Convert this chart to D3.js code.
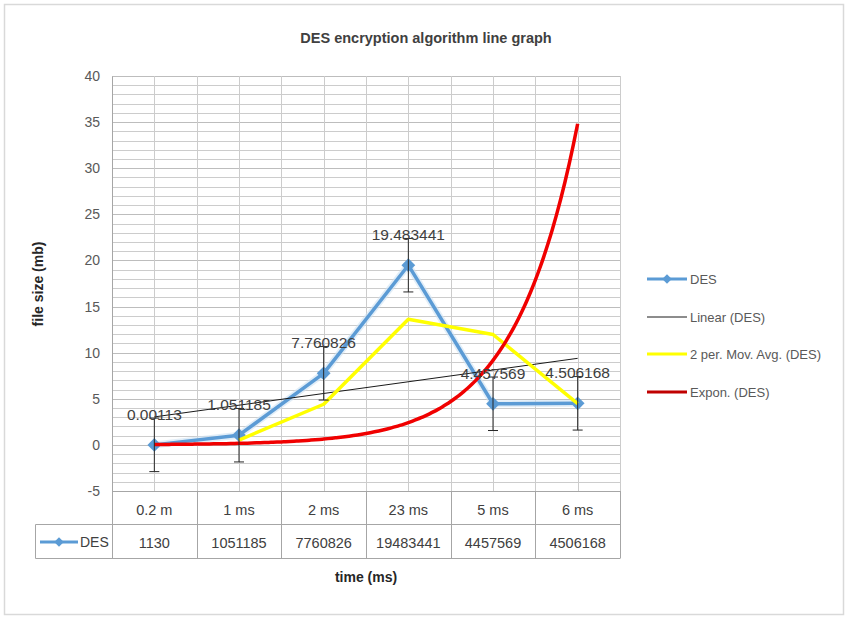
<!DOCTYPE html>
<html>
<head>
<meta charset="utf-8">
<script src="https://cdn.jsdelivr.net/npm/d3@7"></script>
<style>
  html, body { margin: 0; padding: 0; background: #fff; }
  svg { display: block; font-family: "Liberation Sans", Arial, sans-serif; }
</style>
</head>
<body>
<svg id="chart" width="845" height="617"></svg>
<script>
// Time buckets and the matching DES file sizes (in MB)
const categories = ["0.2 m", "1 ms", "2 ms", "23 ms", "5 ms", "6 ms"];
const desValues = [0.00113, 1.051185, 7.760826, 19.483441, 4.457569, 4.506168];
const desLabels = ["0.00113", "1.051185", "7.760826", "19.483441", "4.457569", "4.506168"];
const tableValues = ["1130", "1051185", "7760826", "19483441", "4457569", "4506168"];
const yTicks = [-5, 0, 5, 10, 15, 20, 25, 30, 35, 40];
const errorAmount = 2.9;
const legendItems = ["DES", "Linear (DES)", "2 per. Mov. Avg. (DES)", "Expon. (DES)"];

const svg = d3.select("#chart");
const W = 845, H = 617;
const plot = { left: 112, right: 620, top: 76, bottom: 491 };

const BLUE = "#5b9bd5", YELLOW = "#ffff00", RED = "#f00000";
const TEXT = "#404040", GRID = "#cccccc", AXIS = "#a6a6a6";

// outer chart border
svg.append("rect").attr("x", 4.5).attr("y", 4.5).attr("width", W - 6).attr("height", H - 7)
  .attr("fill", "#fff").attr("stroke", "#d9d9d9").attr("stroke-width", 1.5);

const x = d3.scaleBand().domain(categories).range([plot.left, plot.right]);
const y = d3.scaleLinear().domain([-5, 40]).range([plot.bottom, plot.top]);
const cx = i => x(categories[i]) + x.bandwidth() / 2;
// numeric position 1..n (as used for the trend fits) to pixel x
const xNum = t => plot.left + (t - 0.5) * x.bandwidth();

// square marker turned 45 degrees
const diamond = size => d3.symbol(d3.symbolSquare, size)();

// title
svg.append("text").attr("x", 426).attr("y", 43).attr("text-anchor", "middle")
  .attr("font-weight", "bold").attr("font-size", 14.5).attr("fill", TEXT)
  .text("DES encryption algorithm line graph");

// horizontal gridlines every 1 MB
const g = svg.append("g");
g.selectAll("line.hgrid").data(d3.range(-4, 41)).join("line")
  .attr("x1", plot.left).attr("x2", plot.right)
  .attr("y1", d => Math.round(y(d)) + 0.5).attr("y2", d => Math.round(y(d)) + 0.5)
  .attr("stroke", d => d % 5 === 0 ? "#bdbdbd" : GRID).attr("stroke-width", 1);

// vertical gridlines at category edges and centres
const vx = [];
categories.forEach((c, i) => { vx.push(x(c)); vx.push(cx(i)); });
vx.push(plot.right);
g.selectAll("line.vgrid").data(vx.slice(1)).join("line")
  .attr("x1", d => Math.round(d) + 0.5).attr("x2", d => Math.round(d) + 0.5)
  .attr("y1", plot.top).attr("y2", plot.bottom)
  .attr("stroke", GRID);

// y axis
const yAxis = d3.axisLeft(y).tickValues(yTicks).tickSize(0).tickPadding(12).tickFormat(d => String(d));
const ya = svg.append("g").attr("transform", `translate(${plot.left},0)`).call(yAxis);
ya.select(".domain").attr("stroke", AXIS);
ya.selectAll("text").attr("font-size", 14).attr("fill", "#595959")
  .attr("font-family", "Liberation Sans, Arial, sans-serif");

svg.append("text").attr("transform", "translate(43,284) rotate(-90)")
  .attr("text-anchor", "middle").attr("font-weight", "bold").attr("font-size", 14)
  .attr("fill", "#262626").text("file size (mb)");

// data table under the plot
const tbl = svg.append("g");
const rowSplit = 524.5, tableBottom = 558.5, tableLeft = 35.5;
tbl.append("line").attr("x1", plot.left).attr("x2", plot.right)
  .attr("y1", plot.bottom + 0.5).attr("y2", plot.bottom + 0.5).attr("stroke", AXIS);
[rowSplit, tableBottom].forEach(yy => tbl.append("line")
  .attr("x1", tableLeft).attr("x2", plot.right).attr("y1", yy).attr("y2", yy).attr("stroke", AXIS));
tbl.append("line").attr("x1", tableLeft).attr("x2", tableLeft)
  .attr("y1", rowSplit).attr("y2", tableBottom).attr("stroke", AXIS);
tbl.selectAll("line.col").data(categories.map(c => x(c)).concat([plot.right])).join("line")
  .attr("x1", d => Math.round(d) + 0.5).attr("x2", d => Math.round(d) + 0.5)
  .attr("y1", plot.bottom).attr("y2", tableBottom).attr("stroke", AXIS);
tbl.selectAll("text.cat").data(categories).join("text")
  .attr("x", (d, i) => cx(i)).attr("y", 515).attr("text-anchor", "middle")
  .attr("font-size", 14.5).attr("fill", TEXT).text(d => d);
tbl.selectAll("text.val").data(tableValues).join("text")
  .attr("x", (d, i) => cx(i)).attr("y", 548).attr("text-anchor", "middle")
  .attr("font-size", 14.5).attr("fill", TEXT).text(d => d);

// DES key: line with a diamond marker
function desKey(sel, x0, x1, yy) {
  sel.append("line").attr("x1", x0).attr("x2", x1).attr("y1", yy).attr("y2", yy)
    .attr("stroke", BLUE).attr("stroke-width", 3);
  sel.append("path").attr("d", diamond(45))
    .attr("transform", `translate(${(x0 + x1) / 2},${yy}) rotate(45)`).attr("fill", BLUE);
}
desKey(tbl, 40, 78, 542);
tbl.append("text").attr("x", 80).attr("y", 547).attr("font-size", 14).attr("fill", TEXT).text("DES");

svg.append("text").attr("x", 366).attr("y", 582).attr("text-anchor", "middle")
  .attr("font-weight", "bold").attr("font-size", 14).attr("fill", "#262626").text("time (ms)");

// DES series line with a soft glow
const pts = desValues.map((v, i) => [cx(i), y(v)]);
const line = d3.line();
svg.append("path").attr("d", line(pts)).attr("fill", "none")
  .attr("stroke", "#cfe2f3").attr("stroke-width", 7).attr("stroke-linejoin", "round").attr("opacity", 0.6);
svg.append("path").attr("d", line(pts)).attr("fill", "none")
  .attr("stroke", BLUE).attr("stroke-width", 3.5).attr("stroke-linejoin", "round");
svg.selectAll("path.marker").data(pts).join("path")
  .attr("d", diamond(95))
  .attr("transform", d => `translate(${d[0]},${d[1]}) rotate(45)`).attr("fill", BLUE);

// Least-squares trend fits over positions 1..n
const n = desValues.length;
const xs = d3.range(1, n + 1);
function fit(xv, yv) {
  const mx = d3.mean(xv), my = d3.mean(yv);
  const sxy = d3.sum(xv, (d, i) => (d - mx) * (yv[i] - my));
  const sxx = d3.sum(xv, d => (d - mx) * (d - mx));
  const b = sxy / sxx;
  return { a: my - b * mx, b };
}
const lin = fit(xs, desValues);
const ex = fit(xs, desValues.map(v => Math.log(v)));

// linear trendline
svg.append("line").attr("x1", xNum(1)).attr("x2", xNum(n))
  .attr("y1", y(lin.a + lin.b)).attr("y2", y(lin.a + lin.b * n))
  .attr("stroke", "#1a1a1a").attr("stroke-width", 1);

// 2-period moving average
const mov = d3.range(1, n).map(i => [cx(i), y((desValues[i - 1] + desValues[i]) / 2)]);
svg.append("path").attr("d", line(mov)).attr("fill", "none")
  .attr("stroke", YELLOW).attr("stroke-width", 3.5).attr("stroke-linejoin", "round");

// exponential trendline
const expPts = d3.range(1, n + 0.001, 0.05).map(t => [xNum(t), y(Math.exp(ex.a + ex.b * t))]);
svg.append("path").attr("d", d3.line().curve(d3.curveMonotoneX)(expPts)).attr("fill", "none")
  .attr("stroke", RED).attr("stroke-width", 3.5);

// error bars
const eb = svg.append("g").attr("stroke", "#262626").attr("stroke-width", 1);
desValues.forEach((v, i) => {
  const xx = cx(i);
  eb.append("line").attr("x1", xx).attr("x2", xx).attr("y1", y(v + errorAmount)).attr("y2", y(v - errorAmount));
  [v + errorAmount, v - errorAmount].forEach(e => eb.append("line")
    .attr("x1", xx - 5).attr("x2", xx + 5).attr("y1", y(e)).attr("y2", y(e)));
});

// data labels
svg.selectAll("text.dl").data(desValues).join("text")
  .attr("x", (d, i) => cx(i)).attr("y", d => y(d) - 25).attr("text-anchor", "middle")
  .attr("font-size", 15.5).attr("fill", TEXT).text((d, i) => desLabels[i]);

// legend
const lg = svg.append("g");
const ly = [279, 317, 354, 392];
desKey(lg, 647, 687, ly[0]);
lg.append("line").attr("x1", 647).attr("x2", 687).attr("y1", ly[1]).attr("y2", ly[1])
  .attr("stroke", "#1a1a1a").attr("stroke-width", 1);
lg.append("line").attr("x1", 647).attr("x2", 687).attr("y1", ly[2]).attr("y2", ly[2])
  .attr("stroke", YELLOW).attr("stroke-width", 3);
lg.append("line").attr("x1", 647).attr("x2", 687).attr("y1", ly[3]).attr("y2", ly[3])
  .attr("stroke", "#c00000").attr("stroke-width", 3);
lg.selectAll("text").data(legendItems).join("text")
  .attr("x", 690).attr("y", (d, i) => ly[i] + 5).attr("font-size", 13).attr("fill", "#595959")
  .text(d => d);
</script>
</body>
</html>
